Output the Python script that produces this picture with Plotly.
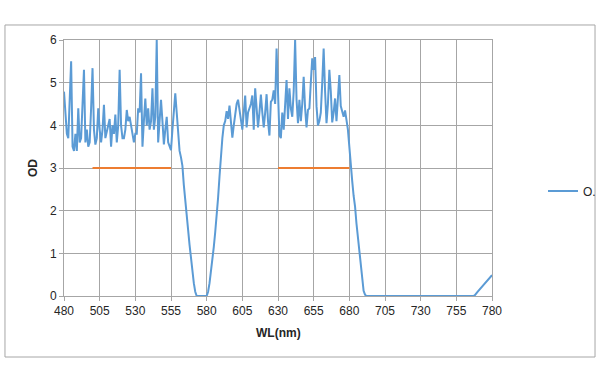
import plotly.graph_objects as go

wl = [480, 481, 482, 483, 484, 485, 486, 487, 488, 489, 490, 491, 492, 493, 494, 495, 496, 497, 498, 499,
      500, 501, 502, 503, 504, 505, 506, 507, 508, 509, 510, 511, 512, 513, 514, 515, 516, 517, 518, 519,
      520, 521, 522, 523, 524, 525, 526, 527, 528, 529, 530, 531, 532, 533, 534, 535, 536, 537, 538, 539,
      540, 541, 542, 543, 544, 545, 546, 547, 548, 549, 550, 551, 552, 553, 554, 555, 556, 557, 558, 559,
      560, 561, 562, 563, 564, 565, 566, 567, 568, 569, 570, 571, 572, 573, 580,
      581, 582, 583, 584, 585, 586, 587, 588, 589, 590, 591, 592, 593, 594, 595, 596, 597, 598, 599,
      600, 601, 602, 603, 604, 605, 606, 607, 608, 609, 610, 611, 612, 613, 614, 615, 616, 617, 618, 619,
      620, 621, 622, 623, 624, 625, 626, 627, 628, 629, 630, 631, 632, 633, 634, 635, 636, 637, 638, 639,
      640, 641, 642, 643, 644, 645, 646, 647, 648, 649, 650, 651, 652, 653, 654, 655, 656, 657, 658, 659,
      660, 661, 662, 663, 664, 665, 666, 667, 668, 669, 670, 671, 672, 673, 674, 675, 676, 677, 678, 679,
      680, 681, 682, 683, 684, 685, 686, 687, 688, 689, 690, 691, 692, 767,
      768, 770, 772, 774, 776, 778, 780]

od = [4.79, 4.3, 3.8, 3.7, 4.6, 5.5, 3.5, 3.4, 3.8, 3.4, 4.4, 3.6, 3.7, 4.6, 5.3, 3.6, 3.9, 3.5, 3.6, 4.4,
      5.34, 3.9, 3.55, 3.7, 4.4, 3.9, 3.6, 3.9, 4.48, 3.7, 3.9, 4.0, 4.15, 3.5, 4.0, 3.8, 4.25, 3.6, 4.0, 5.3,
      4.0, 3.7, 3.7, 3.9, 4.36, 4.1, 4.2, 4.0, 3.9, 3.6, 3.8, 3.8, 4.4, 4.3, 5.22, 3.5, 4.1, 4.63, 4.0, 4.4,
      3.9, 4.1, 4.87, 3.9, 4.2, 6.0, 3.6, 4.2, 4.6, 4.1, 3.55, 3.9, 4.2, 3.6, 3.5, 3.42, 3.9, 4.4, 4.75, 4.3,
      3.9, 3.4, 3.25, 3.05, 2.6, 2.3, 2.0, 1.55, 1.2, 0.85, 0.55, 0.3, 0.1, 0.0, 0.0,
      0.1, 0.3, 0.55, 0.85, 1.15, 1.5, 1.85, 2.3, 2.8, 3.3, 3.7, 4.0, 4.1, 4.33, 4.15, 4.46, 4.0, 3.71, 4.0,
      4.3, 4.5, 4.6, 4.4, 4.1, 3.9, 4.3, 4.7, 3.95, 4.3, 4.4, 4.5, 4.7, 3.9, 4.87, 4.4, 3.95, 4.3, 4.72, 4.3,
      3.95, 4.3, 4.73, 4.1, 3.76, 4.55, 4.6, 4.82, 4.5, 5.8, 4.75, 3.77, 3.7, 4.3, 3.9, 4.5, 5.06, 4.15, 4.87, 4.4,
      4.2, 4.8, 6.0, 4.6, 4.05, 4.6, 4.1, 4.5, 5.14, 4.4, 3.95, 4.36, 4.4, 5.0, 5.57, 5.3, 5.6, 4.45, 4.0, 4.1,
      4.3, 5.0, 5.8, 4.8, 4.05, 4.5, 5.3, 4.8, 4.07, 4.3, 4.63, 4.1, 4.6, 5.18, 4.45, 4.3, 4.2, 4.35, 4.1, 3.9,
      3.5, 3.0, 2.7, 2.35, 2.1, 1.7, 1.35, 1.0, 0.65, 0.35, 0.12, 0.03, 0.0, 0.0,
      0.02, 0.1, 0.18, 0.26, 0.34, 0.42, 0.49]

spec_wl_1 = [500, 555]
spec_wl_2 = [630, 680]
spec_od = [3, 3]

x_ticks = [480, 505, 530, 555, 580, 605, 630, 655, 680, 705, 730, 755, 780]
y_ticks = [0, 1, 2, 3, 4, 5, 6]

blue = "#5B9BD5"
orange = "#ED7D31"
grid = "#A6A6A6"
font = "Liberation Sans"
text_color = "#262626"

fig = go.Figure()
fig.add_trace(go.Scatter(x=wl, y=od, mode="lines", name="O.",
                         line=dict(color=blue, width=2)))
fig.add_trace(go.Scatter(x=spec_wl_1, y=spec_od, mode="lines", showlegend=False,
                         line=dict(color=orange, width=2)))
fig.add_trace(go.Scatter(x=spec_wl_2, y=spec_od, mode="lines", showlegend=False,
                         line=dict(color=orange, width=2)))

axis_common = dict(showgrid=True, gridcolor=grid, gridwidth=1, showline=True, linecolor=grid,
                   linewidth=1, mirror=True, ticks="outside", ticklen=4, tickcolor=grid,
                   zeroline=False, automargin=False,
                   tickfont=dict(family=font, size=12, color=text_color))

fig.update_xaxes(range=[480, 780], tickvals=x_ticks, **axis_common)
fig.update_yaxes(range=[0, 6], tickvals=y_ticks, **axis_common)

fig.update_layout(
    width=600, height=383,
    margin=dict(l=64, r=108, t=40, b=87, autoexpand=False),
    paper_bgcolor="white", plot_bgcolor="white",
    showlegend=True,
    legend=dict(xref="container", yref="container", x=0.905, y=0.501,
                xanchor="left", yanchor="middle",
                font=dict(family=font, size=12, color=text_color),
                bgcolor="rgba(0,0,0,0)"),
    shapes=[dict(type="rect", xref="paper", yref="paper",
                 x0=-0.1379, x1=1.2407, y0=-0.2383, y1=1.0586,
                 line=dict(color="#A6A6A6", width=1), fillcolor="rgba(0,0,0,0)", layer="below")],
    annotations=[
        dict(text="<b>OD</b>", xref="paper", yref="paper", x=-0.0724, y=0.5,
             xanchor="center", yanchor="middle",
             textangle=-90, showarrow=False, font=dict(family=font, size=12, color=text_color)),
        dict(text="<b>WL(nm)</b>", xref="paper", yref="paper", x=0.5, y=-0.1445,
             xanchor="center", yanchor="middle",
             showarrow=False, font=dict(family=font, size=12, color=text_color)),
    ],
)

fig.write_html("out.html", config={"displayModeBar": False},
               post_script="document.body.style.margin='0';")
